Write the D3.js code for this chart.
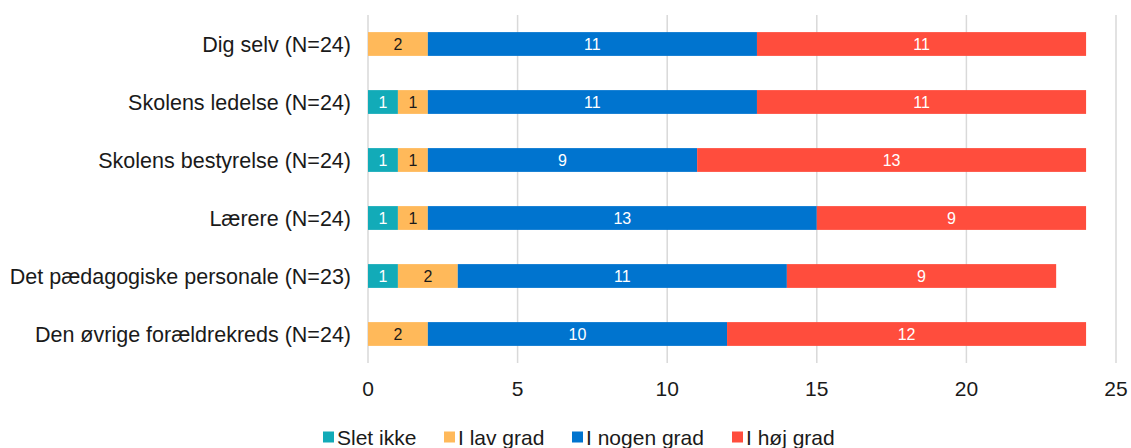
<!DOCTYPE html>
<html><head><meta charset="utf-8">
<script src="https://cdn.jsdelivr.net/npm/d3@7"></script>
<style>body{margin:0;background:#fff;}svg{font-family:"Liberation Sans",Arial,sans-serif;}</style>
</head><body><svg id="c" width="1131" height="448"></svg>
<script>
const categories = ["Dig selv (N=24)","Skolens ledelse (N=24)","Skolens bestyrelse (N=24)","Lærere (N=24)","Det pædagogiske personale (N=23)","Den øvrige forældrekreds (N=24)"];
const seriesNames = ["Slet ikke","I lav grad","I nogen grad","I høj grad"];
const sletIkke = [0,1,1,1,1,0];
const iLavGrad = [2,1,1,1,2,2];
const iNogenGrad = [11,11,9,13,11,10];
const iHoejGrad = [11,11,13,9,9,12];
const xTicks = [0,5,10,15,20,25];
const colors = ["#12abb8","#ffb95a","#0074cf","#ff4d3d"];
const labelColors = ["#fff","#1a1a1a","#fff","#fff"];

const svg = d3.select("#c");
const m = {l:368, r:1116, t:15, b:363};
const x = d3.scaleLinear().domain([0,25]).range([m.l,m.r]);
const y = d3.scaleBand().domain(categories).range([m.t,m.b]).paddingInner(0.59).paddingOuter(0.295);

svg.append("g").selectAll("line").data(xTicks).join("line")
  .attr("x1",d=>x(d)).attr("x2",d=>x(d)).attr("y1",m.t).attr("y2",m.b)
  .attr("stroke","#d9d9d9").attr("stroke-width",1.5);

const series = [sletIkke,iLavGrad,iNogenGrad,iHoejGrad];
const rows = categories.map((c,i)=>{let acc=0;return series.map((s,k)=>{const v=s[i];const o={c,k,v,x0:acc,x1:acc+v};acc+=v;return o;});});
const segs = rows.flat().filter(d=>d.v>0);
svg.append("g").selectAll("rect").data(segs).join("rect")
  .attr("x",d=>x(d.x0)).attr("width",d=>x(d.x1)-x(d.x0))
  .attr("y",d=>y(d.c)).attr("height",y.bandwidth())
  .attr("fill",d=>colors[d.k]);
svg.append("g").selectAll("text").data(segs).join("text")
  .attr("x",d=>(x(d.x0)+x(d.x1))/2).attr("y",d=>y(d.c)+y.bandwidth()/2)
  .attr("dy","0.36em").attr("text-anchor","middle").attr("font-size",16)
  .attr("fill",d=>labelColors[d.k]).text(d=>d.v);

svg.append("g").selectAll("text").data(categories).join("text")
  .attr("x",351).attr("y",d=>y(d)+y.bandwidth()/2).attr("dy","0.36em")
  .attr("text-anchor","end").attr("font-size",21.5).attr("fill","#1a1a1a").text(d=>d);

svg.append("g").selectAll("text").data(xTicks).join("text")
  .attr("x",d=>x(d)).attr("y",388).attr("dy","0.36em")
  .attr("text-anchor","middle").attr("font-size",21).attr("fill","#1a1a1a").text(d=>d);

const legX = [323,444,572,732];
const lg = svg.append("g").selectAll("g").data(seriesNames).join("g")
  .attr("transform",(d,i)=>`translate(${legX[i]},437)`);
lg.append("rect").attr("x",0).attr("y",-5.5).attr("width",11).attr("height",11).attr("fill",(d,i)=>colors[i]);
lg.append("text").attr("x",14).attr("y",0).attr("dy","0.36em").attr("font-size",21).attr("fill","#1a1a1a").text(d=>d);
</script></body></html>
